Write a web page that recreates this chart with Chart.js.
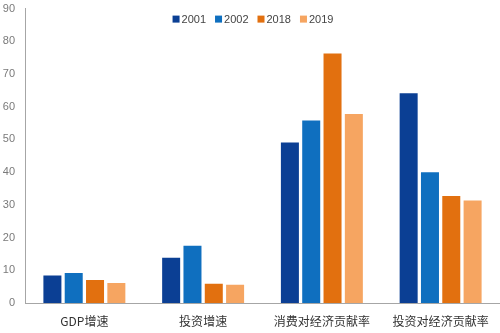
<!DOCTYPE html>
<html>
<head>
<meta charset="utf-8">
<script src="https://cdn.jsdelivr.net/npm/chart.js@4"></script>
<style>
  html, body { margin: 0; padding: 0; background: #fff; }
  #wrap { width: 500px; height: 333px; position: relative; overflow: hidden; }
  #inner { position: absolute; left: 0; top: -8px; width: 500px; height: 341px; }
</style>
</head>
<body>
<div id="wrap"><div id="inner"><canvas id="c"></canvas></div></div>
<script>
const categories = ['GDP增速', '投资增速', '消费对经济贡献率', '投资对经济贡献率'];
const years = ['2001', '2002', '2018', '2019'];
const v2001 = [8.4, 13.8, 49.1, 64.1];
const v2002 = [9.2, 17.5, 55.8, 40.0];
const v2018 = [7.0, 5.9, 76.3, 32.7];
const v2019 = [6.1, 5.6, 57.8, 31.3];
const yTicks = [0, 10, 20, 30, 40, 50, 60, 70, 80, 90];

const colors = ['#0b3f94', '#0f6fbf', '#e2700f', '#f6a561'];
const seriesValues = [v2001, v2002, v2018, v2019];

// Horizontal legend drawn inside the plot area, near its top edge
const innerLegend = {
  id: 'innerLegend',
  afterDraw(chart) {
    const ctx = chart.ctx;
    const box = 7, gapText = 2, gapItem = 9;
    ctx.save();
    ctx.font = '11px "Liberation Sans", Arial, sans-serif';
    ctx.textBaseline = 'middle';
    const items = chart.data.datasets.map(ds => ({
      label: ds.label, color: ds.backgroundColor,
      w: box + gapText + ctx.measureText(ds.label).width
    }));
    const total = items.reduce((s, it) => s + it.w, 0) + gapItem * (items.length - 1);
    let x = chart.width / 2 + 3 - total / 2;
    const y = chart.chartArea.top + 10.5;
    items.forEach(it => {
      ctx.fillStyle = it.color;
      ctx.fillRect(x, y - box / 2, box, box);
      ctx.fillStyle = '#444';
      ctx.textAlign = 'left';
      ctx.fillText(it.label, x + box + gapText, y + 0.5);
      x += it.w + gapItem;
    });
    ctx.restore();
  }
};

new Chart(document.getElementById('c'), {
  type: 'bar',
  data: {
    labels: categories,
    datasets: years.map((y, i) => ({
      label: y,
      data: seriesValues[i],
      backgroundColor: colors[i],
      borderWidth: 0,
      barPercentage: 0.845,
      categoryPercentage: 0.718
    }))
  },
  plugins: [innerLegend],
  options: {
    responsive: true,
    maintainAspectRatio: false,
    animation: false,
    layout: { padding: 0 },
    plugins: {
      tooltip: { enabled: false },
      legend: { display: false }
    },
    scales: {
      x: {
        afterFit: (scale) => { scale.height = 30; },
        grid: { display: false, drawTicks: false },
        border: { display: true, color: '#a6a6a6', width: 1 },
        ticks: {
          maxRotation: 0,
          autoSkip: false,
          padding: 11,
          color: '#333',
          font: { family: 'Noto Sans CJK SC, sans-serif', size: 12 }
        }
      },
      y: {
        min: 0,
        max: 90,
        afterFit: (scale) => { scale.width = 25; },
        afterBuildTicks: (axis) => { axis.ticks = yTicks.map(v => ({ value: v })); },
        grid: { display: false, drawTicks: false },
        border: { display: true, color: '#a6a6a6', width: 1 },
        ticks: {
          padding: 10,
          color: '#7a7a7a',
          font: { family: 'Liberation Sans, Arial, sans-serif', size: 11 }
        }
      }
    }
  }
});
</script>
</body>
</html>
